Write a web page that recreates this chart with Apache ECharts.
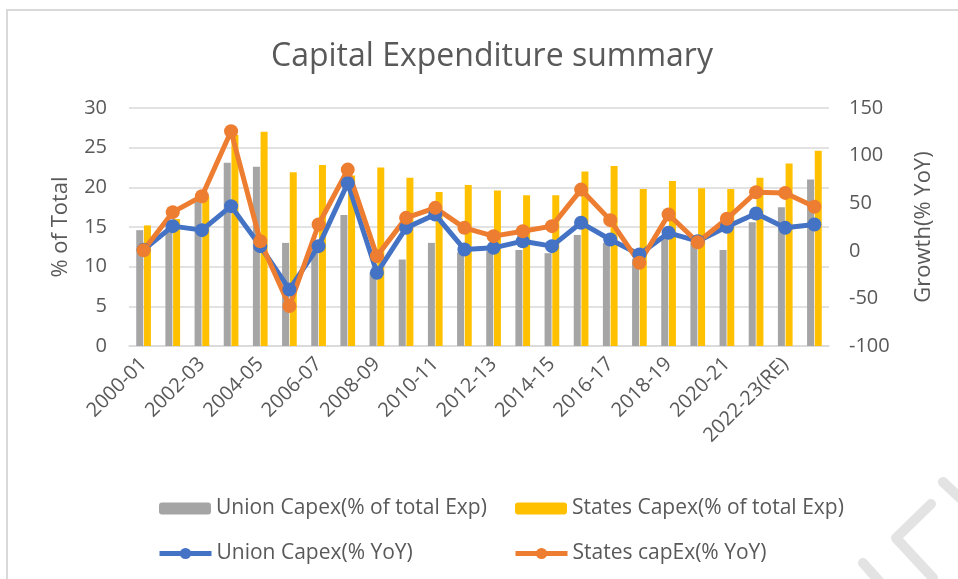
<!DOCTYPE html>
<html>
<head>
<meta charset="utf-8">
<title>Capital Expenditure summary</title>
<script src="https://cdn.jsdelivr.net/npm/echarts@6/dist/echarts.min.js"></script>
<style>
  html, body { margin: 0; padding: 0; background: #fff; }
  #chart { width: 958px; height: 579px; }
</style>
</head>
<body>
<div id="chart"></div>
<script>
// fiscal years on the x axis
var years = [
  "2000-01", "2001-02", "2002-03", "2003-04", "2004-05", "2005-06",
  "2006-07", "2007-08", "2008-09", "2009-10", "2010-11", "2011-12",
  "2012-13", "2013-14", "2014-15", "2015-16", "2016-17", "2017-18",
  "2018-19", "2019-20", "2020-21", "2021-22", "2022-23(RE)", "2023-24(BE)"
];

// capex as % of total expenditure (left axis)
var unionShare = [14.6, 15.5, 18.2, 23.1, 22.6, 13.0, 12.3, 16.5, 9.3, 10.9, 13.0, 11.8,
                  12.0, 12.1, 11.7, 14.0, 13.0, 11.0, 13.8, 13.0, 12.1, 15.6, 17.5, 21.0];
var statesShare = [15.2, 16.0, 18.8, 26.6, 27.0, 21.9, 22.8, 21.5, 22.5, 21.2, 19.4, 20.3,
                   19.6, 19.0, 19.0, 22.0, 22.7, 19.8, 20.8, 19.9, 19.8, 21.2, 23.0, 24.6];

// growth, % YoY (right axis)
var unionYoY = [1, 25.9, 21.7, 46.9, 4.9, -40.6, 4.9, 71, -23.1, 24.1, 38.1, 1.4,
                3.1, 10.1, 4.9, 29.4, 11.9, -3.8, 18.9, 10.1, 25.2, 39.2, 24.1, 27.6];
var statesYoY = [0.5, 40.6, 57.3, 125.5, 10.1, -58.0, 27.6, 85.3, -5.6, 34.6, 45.1, 24.1,
                 15.4, 20.6, 25.9, 64.3, 32.2, -12.6, 38.1, 9.0, 33.6, 61.5, 60.8, 46.2];

var names = [
  "Union Capex(% of total Exp)",
  "States Capex(% of total Exp)",
  "Union Capex(% YoY)",
  "States capEx(% YoY)"
];

var textColor = "#595959";
var font = "'Open Sans', 'Noto Sans', sans-serif";

var chart = echarts.init(document.getElementById("chart"), null, { renderer: "canvas" });

function legendAt(name, left, top, h) {
  return {
    data: [name],
    left: left,
    top: top,
    itemWidth: 52,
    itemHeight: h,
    itemGap: 0,
    lineStyle: { width: 5 },
    textStyle: { color: textColor, fontSize: 21, fontFamily: font }
  };
}

var option = {
  backgroundColor: "#fff",
  animation: false,
  title: {
    text: "Capital Expenditure summary",
    left: 266,
    top: 36,
    textStyle: { color: textColor, fontSize: 32, fontWeight: "normal", fontFamily: font }
  },
  legend: [
    legendAt(names[0], 154, 493, 12),
    legendAt(names[1], 510, 493, 12),
    legendAt(names[2], 152, 538, 14),
    legendAt(names[3], 508, 538, 14)
  ],
  grid: { left: 129, right: 129, top: 108, bottom: 233 },
  xAxis: {
    type: "category",
    data: years,
    axisTick: { show: false },
    axisLine: { lineStyle: { color: "#d9d9d9", width: 1.5 } },
    axisLabel: {
      interval: 1,
      rotate: 45,
      margin: 15,
      color: textColor,
      fontSize: 20,
      fontFamily: font
    }
  },
  yAxis: [
    {
      type: "value",
      min: 0,
      max: 30,
      interval: 5,
      name: "% of Total",
      nameLocation: "middle",
      nameGap: 57,
      nameTextStyle: { color: textColor, fontSize: 22, fontFamily: font },
      axisLabel: { color: textColor, fontSize: 20, fontFamily: font, margin: 22 },
      splitLine: { lineStyle: { color: "#d9d9d9", width: 1.5 } },
      axisLine: { show: false },
      axisTick: { show: false }
    },
    {
      type: "value",
      min: -100,
      max: 150,
      interval: 50,
      name: "Growth(% YoY)",
      nameLocation: "middle",
      nameGap: 84,
      nameRotate: 90,
      nameTextStyle: { color: textColor, fontSize: 22, fontFamily: font },
      axisLabel: { color: textColor, fontSize: 20, fontFamily: font, margin: 20 },
      splitLine: { show: false },
      axisLine: { show: false },
      axisTick: { show: false }
    }
  ],
  series: [
    {
      name: names[0],
      type: "bar",
      data: unionShare,
      barWidth: 7,
      barGap: "10%",
      itemStyle: { color: "#a5a5a5" }
    },
    {
      name: names[1],
      type: "bar",
      data: statesShare,
      barWidth: 7,
      itemStyle: { color: "#ffc000" }
    },
    {
      name: names[2],
      type: "line",
      yAxisIndex: 1,
      data: unionYoY,
      symbol: "circle",
      symbolSize: 14,
      lineStyle: { color: "#4472c4", width: 5 },
      itemStyle: { color: "#4472c4" }
    },
    {
      name: names[3],
      type: "line",
      yAxisIndex: 1,
      data: statesYoY,
      symbol: "circle",
      symbolSize: 14,
      lineStyle: { color: "#ed7d31", width: 5 },
      itemStyle: { color: "#ed7d31" }
    }
  ],
  graphic: [
    // chart frame
    {
      type: "rect",
      shape: { x: 7, y: 10, width: 1000, height: 700 },
      style: { fill: null, stroke: "#d9d9d9", lineWidth: 2 },
      silent: true
    },
    // faint watermark strokes bottom right
    {
      type: "polyline",
      shape: { points: [[943, 482], [962, 500]] },
      style: { stroke: "#e3e3e3", lineWidth: 10, lineCap: "round", fill: null },
      silent: true
    },
    {
      type: "polyline",
      shape: { points: [[931, 504], [896, 538], [933, 578]] },
      style: { stroke: "#e3e3e3", lineWidth: 10, lineCap: "round", lineJoin: "round", fill: null },
      silent: true
    },
    {
      type: "polyline",
      shape: { points: [[863, 563], [880, 582]] },
      style: { stroke: "#e3e3e3", lineWidth: 10, lineCap: "round", fill: null },
      silent: true
    }
  ]
};

chart.setOption(option);
</script>
</body>
</html>
